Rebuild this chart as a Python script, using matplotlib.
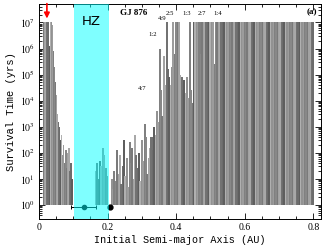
import matplotlib
matplotlib.use('Agg')
import matplotlib.pyplot as plt
import numpy as np

# survival time (log10 yrs) vs initial semi-major axis (AU)
inner_a = [0.015, 0.018, 0.021, 0.024, 0.027, 0.030, 0.033, 0.036, 0.039, 0.042,
           0.045, 0.048, 0.051, 0.054, 0.057, 0.060, 0.063, 0.066, 0.069, 0.072,
           0.075, 0.078, 0.081, 0.084, 0.087, 0.090, 0.093, 0.096]
inner_logt = [7.0, 7.0, 7.0, 7.0, 7.0, 6.1, 7.0, 7.0, 6.9, 5.9,
              5.3, 4.7, 4.2, 3.5, 3.2, 3.0, 2.5, 2.7, 1.9, 2.3,
              1.6, 2.1, 1.4, 2.0, 2.2, 1.3, 1.6, 1.0]

hz_a = [0.166, 0.170, 0.174, 0.178, 0.182, 0.186, 0.190, 0.194, 0.198]
hz_logt = [1.3, 1.6, 1.0, 1.7, 1.5, 2.2, 1.9, 1.4, 1.1]

outer_a = [0.212, 0.216, 0.220, 0.224, 0.228, 0.232, 0.236, 0.240, 0.244, 0.248,
           0.252, 0.256, 0.260, 0.264, 0.268, 0.272, 0.276, 0.280, 0.284, 0.288,
           0.292, 0.296, 0.300, 0.304, 0.308, 0.312, 0.316, 0.320, 0.324, 0.328,
           0.332, 0.336, 0.340, 0.344, 0.348, 0.352, 0.356, 0.360, 0.364, 0.368,
           0.372, 0.376, 0.380, 0.384, 0.388, 0.392, 0.396, 0.400, 0.404, 0.408,
           0.412, 0.416, 0.420, 0.424, 0.428, 0.432, 0.436, 0.440, 0.444, 0.448]
outer_logt = [1.0, 0.6, 1.3, 0.9, 2.1, 1.2, 1.9, 0.8, 1.5, 2.5,
              1.1, 1.8, 0.7, 2.4, 1.6, 2.2, 1.0, 2.7, 1.9, 1.4,
              2.0, 0.9, 2.5, 1.7, 3.1, 2.6, 1.2, 1.8, 2.2, 2.6,
              2.1, 3.0, 2.7, 3.6, 3.2, 6.0, 4.4, 3.4, 5.7, 4.6,
              7.0, 5.2, 4.9, 4.6, 5.3, 7.0, 5.8, 7.0, 7.0, 7.0,
              5.0, 4.9, 4.4, 4.8, 4.3, 4.9, 4.1, 7.0, 4.4, 3.9]

far_a = [0.452, 0.456, 0.460, 0.464, 0.468, 0.472, 0.476, 0.480, 0.484, 0.488,
         0.492, 0.496, 0.500, 0.504, 0.508, 0.512, 0.516, 0.520, 0.524, 0.528,
         0.532, 0.536, 0.540, 0.544, 0.548, 0.552, 0.556, 0.560, 0.564, 0.568,
         0.572, 0.576, 0.580, 0.584, 0.588, 0.592, 0.596, 0.600, 0.604, 0.608,
         0.612, 0.616, 0.620, 0.624, 0.628, 0.632, 0.636, 0.640, 0.644, 0.648,
         0.652, 0.656, 0.660, 0.664, 0.668, 0.672, 0.676, 0.680, 0.684, 0.688,
         0.692, 0.696, 0.700, 0.704, 0.708, 0.712, 0.716, 0.720, 0.724, 0.728,
         0.732, 0.736, 0.740, 0.744, 0.748, 0.752, 0.756, 0.760, 0.764, 0.768,
         0.772, 0.776, 0.780, 0.784, 0.788, 0.792, 0.796, 0.800]
far_logt = [7.0, 7.0, 7.0, 7.0, 7.0, 5.8, 7.0, 7.0, 7.0, 7.0,
            7.0, 7.0, 7.0, 7.0, 7.0, 5.4, 7.0, 7.0, 7.0, 7.0,
            7.0, 7.0, 7.0, 7.0, 7.0, 7.0, 7.0, 7.0, 7.0, 7.0,
            7.0, 7.0, 7.0, 7.0, 7.0, 7.0, 7.0, 7.0, 7.0, 7.0,
            7.0, 7.0, 7.0, 7.0, 7.0, 7.0, 7.0, 7.0, 7.0, 7.0,
            7.0, 7.0, 7.0, 7.0, 7.0, 7.0, 7.0, 7.0, 7.0, 7.0,
            7.0, 7.0, 7.0, 7.0, 7.0, 7.0, 7.0, 7.0, 7.0, 7.0,
            7.0, 7.0, 7.0, 7.0, 7.0, 7.0, 7.0, 7.0, 7.0, 7.0,
            7.0, 7.0, 7.0, 7.0, 7.0, 7.0, 7.0, 7.0]

# planets c and b (semi-major axis, range of c)
planet_c_a = 0.130
planet_c_range = [0.093, 0.167]
planet_b_a = 0.208
planet_y = 0.8

resonances = ['4:7', '1:2', '4:9', '2:5', '1:3', '2:7', '1:4']
res_a = [0.302, 0.330, 0.358, 0.383, 0.432, 0.476, 0.521]
res_logy = [4.45, 6.55, 7.15, 7.35, 7.35, 7.35, 7.35]

plt.rcParams['mathtext.fontset'] = 'stix'
plt.rcParams['font.family'] = 'Liberation Serif'

fig = plt.figure(figsize=(3.32, 2.45), dpi=100)
ax = fig.add_axes([0.1175, 0.106, 0.85, 0.878])

shades = ['#7a7a7a', '#9c9c9c', '#5e5e5e', '#a8a8a8', '#888888', '#929292',
          '#6c6c6c', '#a2a2a2', '#808080', '#b0b0b0', '#727272']

def draw_bars(a_vals, logt, width, start):
    t = 10 ** np.array(logt)
    cols = [shades[(start + i * 7) % len(shades)] for i in range(len(a_vals))]
    ax.bar(a_vals, t - 1, bottom=1, width=width * 1.5, color=cols,
           linewidth=0, zorder=2)

draw_bars(inner_a, inner_logt, 0.003, 0)
draw_bars(hz_a, hz_logt, 0.004, 3)
draw_bars(outer_a, outer_logt, 0.004, 5)
draw_bars(far_a, far_logt, 0.004, 2)

# planet markers below 10^0
ax.errorbar([planet_c_a], [planet_y],
            xerr=[[planet_c_a - planet_c_range[0]], [planet_c_range[1] - planet_c_a]],
            fmt='o', color='black', ms=3, lw=0.7, capsize=1.5, capthick=0.7, zorder=3)
ax.plot([planet_b_a], [planet_y], 'o', color='black', ms=3.5, zorder=3)

# habitable zone
ax.axvspan(0.102, 0.204, color='#00ffff', alpha=0.5, lw=0, zorder=4)
ax.text(0.153, 10 ** 7.05, 'HZ', family='DejaVu Sans', fontsize=9.5,
        ha='center', va='center', zorder=5)

ax.annotate('', xy=(0.023, 10 ** 7.15), xytext=(0.023, 10 ** 7.72),
            arrowprops=dict(arrowstyle='-|>', color='red', lw=1.2,
                            mutation_scale=8, shrinkA=0, shrinkB=0), zorder=6)

ax.text(0.275, 10 ** 7.35, 'GJ 876', fontsize=6.5, fontweight='bold',
        ha='center', va='center')
ax.text(0.797, 10 ** 7.38, '(a)', fontsize=6.5, fontweight='bold',
        ha='center', va='center')
for lab, xa, ly in zip(resonances, res_a, res_logy):
    ax.text(xa, 10 ** ly, lab, fontsize=4.8, ha='center', va='center')

ax.set_yscale('log')
ax.set_xlim(0, 0.823)
ax.set_ylim(10 ** -0.54, 10 ** 7.71)
ax.set_yticks([10 ** k for k in range(8)])
ax.set_yticklabels([r'$10^{%d}$' % k for k in range(8)])
ax.yaxis.set_minor_locator(matplotlib.ticker.LogLocator(base=10, subs=np.arange(2, 10)))
ax.yaxis.set_minor_formatter(matplotlib.ticker.NullFormatter())
ax.set_xticks([0, 0.2, 0.4, 0.6, 0.8])
ax.set_xticklabels(['0', '0.2', '0.4', '0.6', '0.8'])
ax.xaxis.set_minor_locator(matplotlib.ticker.MultipleLocator(0.05))

ax.tick_params(which='both', direction='in', top=True, right=True, width=0.6)
ax.tick_params(which='major', length=4, labelsize=7, pad=3)
ax.tick_params(which='minor', length=2)
for sp in ax.spines.values():
    sp.set_linewidth(0.7)

ax.set_xlabel('Initial Semi-major Axis (AU)', family='Liberation Mono', fontsize=7.3, labelpad=2)
ax.set_ylabel('Survival Time (yrs)', family='Liberation Mono', fontsize=7.6, labelpad=3)

fig.savefig('out.png', dpi=100)
